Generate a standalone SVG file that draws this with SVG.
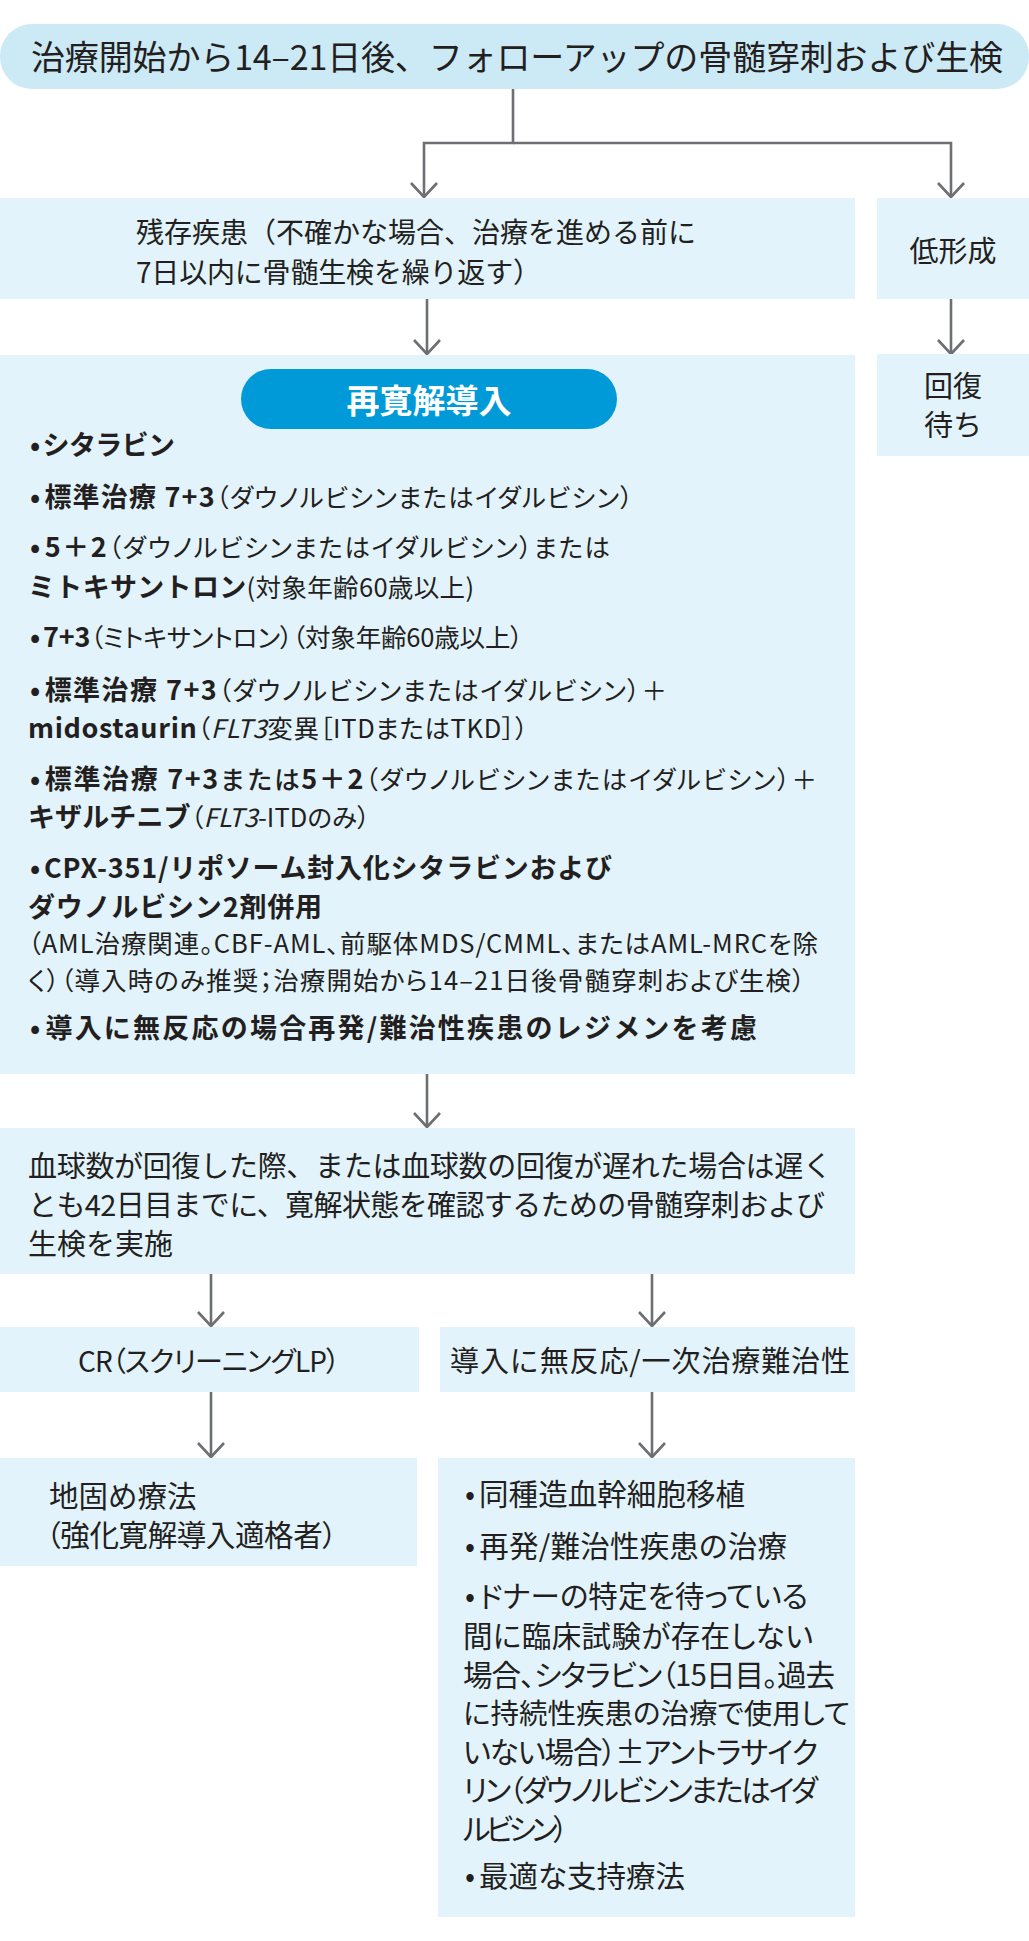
<svg xmlns="http://www.w3.org/2000/svg" width="1029" height="1941" viewBox="0 0 1029 1941">
<defs>
<style>
.t{font-family:"Noto Sans CJK JP","Noto Sans",sans-serif;fill:#231f20}
.b{font-weight:700;font-size:27px;font-feature-settings:normal}
.m{font-weight:500;font-feature-settings:normal}
.i{font-style:italic}
.p{font-feature-settings:"palt" 1}
.box{fill:#e2f3fb}
.conn{fill:none;stroke:#6d6f73;stroke-width:2.6}
</style>
<marker id="arr" markerUnits="userSpaceOnUse" viewBox="-16 -16 20 32" refX="0" refY="0" markerWidth="20" markerHeight="32" orient="auto" overflow="visible">
<path d="M-14,-13 L0,0 L-14,13" fill="none" stroke="#6d6f73" stroke-width="2.6" stroke-linejoin="miter"/>
</marker>
</defs>
<rect width="1029" height="1941" fill="#ffffff"/>

<g id="connectors">
<path class="conn" d="M513,89 V143 H424 V197" marker-end="url(#arr)"/>
<path class="conn" d="M513,143 H951 V197" marker-end="url(#arr)"/>
<path class="conn" d="M427,299 V354" marker-end="url(#arr)"/>
<path class="conn" d="M951,299 V354" marker-end="url(#arr)"/>
<path class="conn" d="M427,1074 V1127" marker-end="url(#arr)"/>
<path class="conn" d="M211,1274 V1326" marker-end="url(#arr)"/>
<path class="conn" d="M652,1274 V1326" marker-end="url(#arr)"/>
<path class="conn" d="M211,1392 V1457" marker-end="url(#arr)"/>
<path class="conn" d="M652,1392 V1457" marker-end="url(#arr)"/>
</g>

<g id="start">
<rect x="0" y="24" width="1029" height="65" rx="32" fill="#cce9f6"/>
<text class="t" x="31" y="70" font-size="34" textLength="972" lengthAdjust="spacing">治療開始から14–21日後、フォローアップの骨髄穿刺および生検</text>
</g>

<g id="residual">
<rect class="box" x="0" y="198" width="855" height="101"/>
<text class="t" x="136" y="243" font-size="28" textLength="560" lengthAdjust="spacing">残存疾患（不確かな場合、治療を進める前に</text>
<text class="t" x="136" y="283" font-size="28" textLength="405" lengthAdjust="spacing">7日以内に骨髄生検を繰り返す）</text>
</g>

<g id="hypoplasia">
<rect class="box" x="877" y="198" width="152" height="101"/>
<text class="t" x="953" y="262" font-size="29" text-anchor="middle">低形成</text>
</g>

<g id="recovery">
<rect class="box" x="877" y="354" width="152" height="102"/>
<text class="t" x="953" y="397" font-size="29" text-anchor="middle">回復</text>
<text class="t" x="953" y="436" font-size="29" text-anchor="middle">待ち</text>
</g>

<g id="reinduction">
<rect class="box" x="0" y="355" width="855" height="719"/>
<rect x="241" y="369" width="376" height="60" rx="30" fill="#009ad9"/>
<text class="t" x="429" y="413" font-size="33" font-weight="700" text-anchor="middle" style="fill:#ffffff">再寛解導入</text>
<g class="p" font-size="25.5">
<text class="t" x="30" y="455" textLength="145" lengthAdjust="spacing"><tspan class="b">•</tspan><tspan class="b" dx="3">シタラビン</tspan></text>
<text class="t" x="30" y="507" textLength="603" lengthAdjust="spacing"><tspan class="b">•</tspan><tspan class="b" dx="3">標準治療 7+3</tspan>（ダウノルビシンまたはイダルビシン）</text>
<text class="t" x="30" y="557" textLength="580" lengthAdjust="spacing"><tspan class="b">•</tspan><tspan class="b" dx="3">5＋2</tspan>（ダウノルビシンまたはイダルビシン）または</text>
<text class="t" x="28" y="597" textLength="446" lengthAdjust="spacing"><tspan class="b">ミトキサントロン</tspan>(対象年齢60歳以上)</text>
<text class="t" x="30" y="647" textLength="493" lengthAdjust="spacing"><tspan class="b">•</tspan><tspan class="b" dx="3">7+3</tspan>（ミトキサントロン）（対象年齢60歳以上）</text>
<text class="t" x="30" y="700" textLength="637" lengthAdjust="spacing"><tspan class="b">•</tspan><tspan class="b" dx="3">標準治療 7+3</tspan>（ダウノルビシンまたはイダルビシン）＋</text>
<text class="t" x="28" y="738" textLength="500" lengthAdjust="spacing"><tspan class="b">midostaurin</tspan>（<tspan class="i">FLT3</tspan>変異［ITDまたはTKD］）</text>
<text class="t" x="30" y="789" textLength="787" lengthAdjust="spacing"><tspan class="b">•</tspan><tspan class="b" dx="3">標準治療 7+3</tspan><tspan class="m">または</tspan><tspan class="b">5＋2</tspan>（ダウノルビシンまたはイダルビシン）＋</text>
<text class="t" x="28" y="827" textLength="342" lengthAdjust="spacing"><tspan class="b">キザルチニブ</tspan>（<tspan class="i">FLT3</tspan>-ITDのみ）</text>
<text class="t" x="30" y="878" textLength="582" lengthAdjust="spacing"><tspan class="b">•</tspan><tspan class="b" dx="3">CPX-351/リポソーム封入化シタラビンおよび</tspan></text>
<text class="t" x="28" y="917" textLength="294" lengthAdjust="spacing"><tspan class="b">ダウノルビシン2剤併用</tspan></text>
<text class="t" x="28" y="953" textLength="790" lengthAdjust="spacing">（AML治療関連。CBF-AML、前駆体MDS/CMML、またはAML-MRCを除</text>
<text class="t" x="28" y="990" textLength="777" lengthAdjust="spacing">く）（導入時のみ推奨；治療開始から14–21日後骨髄穿刺および生検）</text>
<text class="t" x="30" y="1038" textLength="727" lengthAdjust="spacing"><tspan class="b">•</tspan><tspan class="b" dx="3">導入に無反応の場合再発/難治性疾患のレジメンを考慮</tspan></text>
</g>
</g>

<g id="assessment">
<rect class="box" x="0" y="1128" width="855" height="146"/>
<text class="t" x="28" y="1177" font-size="29" textLength="804" lengthAdjust="spacing">血球数が回復した際、または血球数の回復が遅れた場合は遅く</text>
<text class="t" x="28" y="1216" font-size="29" textLength="797" lengthAdjust="spacing">とも42日目までに、寛解状態を確認するための骨髄穿刺および</text>
<text class="t" x="28" y="1255" font-size="29">生検を実施</text>
</g>

<g id="cr">
<rect class="box" x="0" y="1327" width="419" height="65"/>
<text class="t p" x="209" y="1372" font-size="28" text-anchor="middle" textLength="262" lengthAdjust="spacing">CR（スクリーニングLP）</text>
</g>

<g id="refractory">
<rect class="box" x="440" y="1327" width="415" height="65"/>
<text class="t" x="650" y="1372" font-size="29" text-anchor="middle" textLength="400" lengthAdjust="spacing">導入に無反応/一次治療難治性</text>
</g>

<g id="consolidation">
<rect class="box" x="0" y="1458" width="417" height="108"/>
<text class="t" x="49" y="1507" font-size="29.5">地固め療法</text>
<text class="t p" x="46" y="1546" font-size="29.5" textLength="291" lengthAdjust="spacing">（強化寛解導入適格者）</text>
</g>

<g id="refractory-options">
<rect class="box" x="438" y="1458" width="417" height="459"/>
<g class="p" font-size="29.5">
<text class="t" x="465" y="1505" textLength="280" lengthAdjust="spacing">•<tspan dx="4">同種造血幹細胞移植</tspan></text>
<text class="t" x="465" y="1557" textLength="322" lengthAdjust="spacing">•<tspan dx="4">再発/難治性疾患の治療</tspan></text>
<text class="t" x="465" y="1607" textLength="343" lengthAdjust="spacing">•<tspan dx="4">ドナーの特定を待っている</tspan></text>
<text class="t" x="463" y="1647" textLength="350" lengthAdjust="spacing">間に臨床試験が存在しない</text>
<text class="t" x="463" y="1686" textLength="372" lengthAdjust="spacing">場合、シタラビン（15日目。過去</text>
<text class="t" x="463" y="1724" font-size="28.5">に持続性疾患の治療で使用して</text>
<text class="t" x="463" y="1763" textLength="355" lengthAdjust="spacing">いない場合）±アントラサイク</text>
<text class="t" x="463" y="1801" textLength="355" lengthAdjust="spacing">リン（ダウノルビシンまたはイダ</text>
<text class="t" x="463" y="1840" textLength="105" lengthAdjust="spacing">ルビシン）</text>
<text class="t" x="465" y="1887" textLength="220" lengthAdjust="spacing">•<tspan dx="4">最適な支持療法</tspan></text>
</g>
</g>
</svg>
